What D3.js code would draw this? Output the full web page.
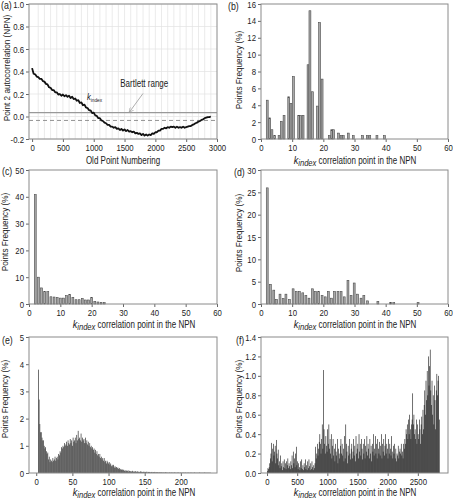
<!DOCTYPE html>
<html><head><meta charset="utf-8">
<script src="https://cdn.jsdelivr.net/npm/d3@7/dist/d3.min.js"></script>
<style>
body{margin:0;background:#fff}
svg{display:block}
text{font-family:"Liberation Sans",Arial,Helvetica,sans-serif;fill:#222}
</style></head><body>
<svg id="chart" width="453" height="500"></svg>
<script>
// ---------- DATA ----------
// (a) autocorrelation of point 2 vs old point numbering (step 25)
const oldPoints = d3.range(0, 2901, 25);
const autocorr = [0.43,0.38,0.375,0.355,0.35,0.335,0.335,0.315,0.31,0.29,0.285,0.26,0.255,0.235,0.235,0.215,0.215,0.195,0.2,0.185,
0.195,0.18,0.19,0.175,0.185,0.165,0.175,0.155,0.16,0.14,0.145,0.12,0.125,0.1,0.105,0.08,0.075,0.055,0.055,0.03,
0.035,0.01,0.005,-0.015,-0.015,-0.035,-0.04,-0.055,-0.06,-0.075,-0.075,-0.09,-0.09,-0.1,-0.095,-0.11,-0.105,-0.12,-0.11,-0.125,
-0.115,-0.13,-0.12,-0.135,-0.13,-0.14,-0.135,-0.15,-0.145,-0.155,-0.15,-0.165,-0.155,-0.17,-0.16,-0.17,-0.16,-0.165,-0.15,-0.155,
-0.14,-0.14,-0.125,-0.125,-0.11,-0.11,-0.1,-0.105,-0.095,-0.1,-0.09,-0.095,-0.09,-0.1,-0.09,-0.1,-0.095,-0.1,-0.09,-0.1,
-0.095,-0.09,-0.085,-0.085,-0.075,-0.07,-0.06,-0.055,-0.045,-0.04,-0.03,-0.025,-0.015,-0.01,-0.005,-0.005,0.0];
const bartlett = [0.035, -0.035];

// (b)
const bK = [2.0,2.8,3.5,4.4,5.8,6.5,7.4,8.9,9.6,10.4,12.1,12.7,13.5,15.1,15.7,16.5,18.1,18.8,19.6,21.9,22.7,23.3,24.9,25.7,26.4,28.0,29.6,32.6,34.1,34.9,37.2,39.6];
const bVal = [4.6,2.5,1.1,0.4,0.4,2.1,2.8,5.0,4.2,7.4,2.8,2.8,2.8,8.8,15.2,5.6,3.9,13.8,7.1,0.4,1.1,1.1,0.7,0.4,0.4,0.7,0.4,0.4,0.4,0.4,0.4,0.4];

// (c)
const cK = [2,3,4,5,6,7,8,9,10,11,12,13,14,15,16,17,18,19,20,21,22,23,24];
const cVal = [40.8,10,6,4.6,4.6,2.7,2.6,2.4,2.2,2.2,3.1,3.6,2.5,1.6,1.6,2.1,1.5,1.5,2.4,1.0,0.75,0.6,0.5];

// (d)
const dK = [2.0,3.0,4.1,5.0,6.1,7.1,8.0,9.1,10.3,11.3,12.3,13.4,14.4,15.4,16.5,17.5,18.5,19.6,20.6,21.6,22.6,23.6,24.7,25.7,26.7,27.9,28.9,29.9,31.0,32.1,33.0,34.2,37.5,41.6,42.6,50.4];
const dVal = [26.0,4.4,3.1,1.0,2.2,1.2,2.2,1.0,3.4,2.8,2.8,2.5,1.9,1.3,3.4,2.8,2.8,1.9,1.6,2.8,1.3,2.8,2.8,2.8,1.6,5.3,1.9,4.7,2.2,1.3,1.9,0.7,0.6,0.3,0.3,0.3];

// (e) one value per k, starting at k = 3
const eStart = 3;
const eVal = [3.8,2.7,1.8,1.5,1.5,1.3,1.2,1.2,1.0,0.9,0.95,0.8,0.7,0.75,0.5,0.6,0.4,0.5,0.45,0.4,
0.55,0.45,0.5,0.6,0.45,0.55,0.6,0.5,0.7,0.65,0.8,0.75,0.95,0.9,1.0,0.95,1.1,1.0,1.05,1.15,
1.0,1.2,1.1,1.05,1.25,1.1,1.2,1.0,1.3,1.15,1.2,1.3,1.1,1.4,1.2,1.55,1.25,1.3,1.2,1.45,
1.15,1.3,1.2,1.25,1.1,1.3,1.1,1.2,1.05,1.15,1.0,1.1,0.95,1.0,0.9,0.95,0.85,0.9,0.75,0.85,
0.7,0.8,0.65,0.7,0.6,0.7,0.55,0.6,0.5,0.55,0.45,0.55,0.4,0.45,0.35,0.45,0.4,0.35,0.4,0.3,
0.35,0.25,0.3,0.25,0.3,0.2,0.25,0.2,0.22,0.18,0.2,0.15,0.18,0.12,0.15,0.12,0.13,0.1,0.12,
0.08,0.1,0.06,0.09,0.07,0.1,0.05,0.08,0.06,0.07,0.05,0.08,0.04,0.06,0.05,0.07,0.04,0.05,0.06,0.04,
0.05,0.03,0.06,0.04,0.05,0.03,0.04,0.05,0.03,0.04,0.03,0.05,0.02,0.04,0.03,0.04,0.02,0.03,0.04,0.02,
0.03,0.02,0.04,0.02,0.03,0.02,0.03,0.02,0.02,0.03,0.02,0.02,0.03,0.01,0.02,0.02,0.01,0.03,0.02,0.01,
0.02,0.01,0.02,0.02,0.01,0.02,0.01,0.02,0.01,0.02,0.02,0.01,0.01,0.02,0.01,0.02,0.01,0.01,0.02,0.01,
0.01,0.02,0.01,0.01,0.02,0.01,0.01,0.01,0.02,0.01,0.01,0.01,0.02,0.01,0.01,0.01,0.01,0.02,0.01,0.01,
0.01,0.01,0.01,0.01,0.02,0.01,0.01,0.01,0.01,0.01,0.01,0.02,0.01,0.01,0.01,0.01,0.01,0.01,0.01,0.01];

// (f) bins of 10 starting at k = 0
const fBin = 10;
const fVal = [0.02,0.05,0.04,0.06,0.1,0.15,0.2,0.31,0.12,0.25,0.3,0.18,0.22,0.28,0.1,0.34,0.2,0.15,0.24,0.08,
0.12,0.05,0.18,0.07,0.1,0.03,0.12,0.06,0.14,0.05,0.1,0.04,0.12,0.08,0.15,0.05,0.1,0.07,0.04,0.12,
0.08,0.18,0.05,0.22,0.1,0.15,0.06,0.2,0.27,0.08,0.12,0.04,0.1,0.06,0.03,0.12,0.05,0.14,0.04,0.08,
0.03,0.1,0.06,0.14,0.04,0.08,0.03,0.12,0.05,0.14,0.07,0.03,0.1,0.04,0.12,0.06,0.03,0.08,0.05,0.1,
0.27,0.15,0.2,0.3,0.18,0.25,0.32,0.4,0.3,0.2,0.35,0.5,0.25,1.06,0.45,0.3,0.2,0.38,0.28,0.22,
0.45,0.3,0.5,0.25,0.35,0.2,0.4,0.15,0.28,0.35,0.18,0.25,0.12,0.3,0.22,0.18,0.35,0.1,0.25,0.2,
0.15,0.28,0.35,0.2,0.3,0.18,0.25,0.12,0.38,0.15,0.5,0.3,0.22,0.1,0.28,0.18,0.35,0.2,0.14,0.25,
0.3,0.15,0.22,0.35,0.18,0.28,0.12,0.38,0.2,0.25,0.3,0.15,0.4,0.22,0.3,0.18,0.35,0.25,0.14,0.3,
0.2,0.35,0.15,0.28,0.22,0.38,0.18,0.3,0.25,0.15,0.35,0.2,0.28,0.12,0.3,0.22,0.4,0.18,0.25,0.38,
0.2,0.3,0.15,0.35,0.25,0.2,0.32,0.18,0.28,0.4,0.15,0.3,0.22,0.35,0.18,0.28,0.4,0.2,0.3,0.25,
0.15,0.35,0.2,0.3,0.25,0.18,0.38,0.22,0.15,0.28,0.2,0.3,0.15,0.25,0.12,0.2,0.18,0.28,0.15,0.22,
0.25,0.2,0.3,0.18,0.22,0.15,0.3,0.25,0.35,0.3,0.45,0.4,0.5,0.35,0.55,0.4,0.6,0.45,0.35,0.5,
0.55,0.82,0.5,0.6,0.4,0.45,0.35,0.55,0.3,0.5,0.4,0.35,0.55,0.45,0.3,0.5,0.58,0.4,0.65,0.45,
0.7,0.85,0.6,0.95,0.75,1.05,0.8,1.2,0.9,1.1,1.27,0.85,0.7,0.95,0.6,0.8,0.5,0.9,0.75,0.45,
0.85,1.02,0.8,0.95,1.0,0.55];

// tick labels
const aXTicks = [0,500,1000,1500,2000,2500,3000];
const aYTicks = [-0.2,0,0.2,0.4,0.6,0.8,1.0];
const k60Ticks = [0,10,20,30,40,50,60];
const bYTicks = [0,2,4,6,8,10,12,14,16];
const cYTicks = [0,10,20,30,40,50];
const dYTicks = [0,5,10,15,20,25,30];
const eXTicks = [0,50,100,150,200];
const eYTicks = [0,1,2,3,4,5];
const fXTicks = [0,500,1000,1500,2000,2500];
const fYTicks = [0,0.2,0.4,0.6,0.8,1.0,1.2,1.4];

// ---------- DRAW ----------
const svg = d3.select("#chart");
const L = {x0:29, x1:217}, R = {x0:261, x1:448};
const ROW = [{y0:4,y1:139},{y0:170,y1:304},{y0:337,y1:473}];
const SQ = 0.8;   // horizontal condensing of the sans face (reference uses a narrow face)

// condense a text horizontally about its anchor x
function condense(sel, f){
  sel.each(function(){
    const x0 = +(this.getAttribute("x")||0);
    const prev = this.getAttribute("transform")||"";
    this.setAttribute("transform", `${prev} translate(${x0*(1-f)},0) scale(${f},1)`);
  });
}

function panel(o){
  const g = svg.append("g");
  const x = d3.scaleLinear().domain(o.xd).range([o.box.x0,o.box.x1]);
  const y = d3.scaleLinear().domain(o.yd).range([o.box.y1,o.box.y0]);
  if (o.grid) o.grid(g,x,y);
  const xa = g.append("g").attr("transform",`translate(0,${o.box.y1})`)
    .call(d3.axisBottom(x).tickValues(o.xt).tickSizeInner(3).tickSizeOuter(0).tickPadding(2).tickFormat(o.xf||(v=>v)));
  const ya = g.append("g").attr("transform",`translate(${o.box.x0},0)`)
    .call(d3.axisLeft(y).tickValues(o.yt).tickSizeInner(3).tickSizeOuter(0).tickPadding(2).tickFormat(o.yf||(v=>v)));
  [xa,ya].forEach(a=>{a.select(".domain").remove();a.selectAll("line").attr("stroke","#666");
    a.selectAll("text").style("font-size","9.5px").attr("fill","#222").call(condense, 0.82);});
  o.draw(g,x,y);
  g.append("rect").attr("x",o.box.x0).attr("y",o.box.y0).attr("width",o.box.x1-o.box.x0).attr("height",o.box.y1-o.box.y0)
    .attr("fill","none").attr("stroke","#8a8a8a").attr("stroke-width",1);
  g.append("text").attr("x",o.lx).attr("y",o.ly).style("font-size","11px").text(o.letter).call(condense, SQ);
  // y title
  g.append("text").attr("transform",`translate(${o.ytx},${o.yty}) rotate(-90)`).attr("text-anchor","middle")
    .style("font-size","9.5px").text(o.ytitle).call(condense, 0.86);
  // x title
  const t = g.append("text").attr("x",o.xtx).attr("y",o.xty).attr("text-anchor","middle").style("font-size","10px");
  if (o.xtitle) t.text(o.xtitle);
  else {
    t.append("tspan").style("font-style","italic").style("font-size","11.5px").text("k");
    t.append("tspan").style("font-style","italic").style("font-size","9.5px").attr("dy",2.5).text("index");
    t.append("tspan").attr("dy",-2.5).text(" correlation point in the NPN");
  }
  t.call(condense, SQ);
  return {x,y,g};
}

function bars(data, w, fill, stroke){
  return (g,x,y)=>{
    g.append("g").selectAll("rect").data(data).join("rect")
      .attr("x",d=>x(d[0])-w/2).attr("width",w)
      .attr("y",d=>y(d[1])).attr("height",d=>y(0)-y(d[1]))
      .attr("fill",fill).attr("stroke",stroke||"none").attr("stroke-width",0.6);
  };
}
const zip = (a,b)=>a.map((v,i)=>[v,b[i]]);

// (a)
panel({box:{...L,...ROW[0]}, xd:[-50,3000], yd:[-0.2,1.0], xt:aXTicks, yt:aYTicks, yf:v=>v.toFixed(1),
  letter:"(a)", lx:1, ly:9, ytitle:"Point 2 autocorrelation (NPN)", ytx:10, yty:68,
  xtitle:"Old Point Numbering", xtx:123, xty:164,
  grid:(g,x,y)=>{
    g.append("g").selectAll("line").data(d3.range(100,3000,100)).join("line")
      .attr("x1",d=>x(d)).attr("x2",d=>x(d)).attr("y1",y(1.0)).attr("y2",y(-0.2)).attr("stroke","#e2e2e2").attr("stroke-width",0.7);
    g.append("g").selectAll("line").data(aYTicks).join("line")
      .attr("x1",x(-50)).attr("x2",x(3000)).attr("y1",d=>y(d)).attr("y2",d=>y(d)).attr("stroke","#e2e2e2").attr("stroke-width",0.7);
  },
  draw:(g,x,y)=>{
    g.append("line").attr("x1",x(-50)).attr("x2",x(3000)).attr("y1",y(bartlett[0])).attr("y2",y(bartlett[0]))
      .attr("stroke","#999").attr("stroke-width",1.2);
    g.append("line").attr("x1",x(-50)).attr("x2",x(3000)).attr("y1",y(bartlett[1])).attr("y2",y(bartlett[1]))
      .attr("stroke","#888").attr("stroke-width",0.9).attr("stroke-dasharray","4,3");
    g.append("path").datum(zip(oldPoints,autocorr))
      .attr("d",d3.line().x(d=>x(d[0])).y(d=>y(d[1])))
      .attr("fill","none").attr("stroke","#111").attr("stroke-width",1.8).attr("stroke-linejoin","round");
    svg.append("defs").append("marker").attr("id","ah").attr("viewBox","0 0 10 10").attr("refX",9).attr("refY",5)
      .attr("markerWidth",6).attr("markerHeight",6).attr("orient","auto")
      .append("path").attr("d","M0,0L10,5L0,10").attr("fill","none").attr("stroke","#999").attr("stroke-width",1.2);
    g.append("line").attr("x1",x(1800)).attr("y1",y(0.205)).attr("x2",x(1580)).attr("y2",y(0.04))
      .attr("stroke","#999").attr("stroke-width",0.8).attr("marker-end","url(#ah)");
    g.append("text").attr("x",x(1820)).attr("y",y(0.26)).attr("text-anchor","middle").style("font-size","10px")
      .text("Bartlett range").call(condense, SQ);
    const kt = g.append("text").attr("x",x(890)).attr("y",y(0.15));
    kt.append("tspan").style("font-style","italic").style("font-size","9.5px").text("k");
    kt.append("tspan").style("font-size","6px").attr("dy",2).text("index");
    kt.call(condense, SQ);
  }
});

// (b)
panel({box:{...R,...ROW[0]}, xd:[0,60], yd:[0,16], xt:k60Ticks, yt:bYTicks,
  letter:"(b)", lx:228, ly:10, ytitle:"Points Frequency (%)", ytx:242, yty:70, xtx:355, xty:164,
  draw:bars(zip(bK,bVal),1.9,"#a9a9a9","#4a4a4a")});

// (c)
panel({box:{...L,...ROW[1]}, xd:[0,60], yd:[0,50], xt:k60Ticks, yt:cYTicks,
  letter:"(c)", lx:2, ly:175, ytitle:"Points Frequency (%)", ytx:8, yty:232, xtx:134, xty:328,
  draw:bars(zip(cK,cVal),1.9,"#a9a9a9","#4a4a4a")});

// (d)
panel({box:{...R,...ROW[1]}, xd:[0,60], yd:[0,30], xt:k60Ticks, yt:dYTicks,
  letter:"(d)", lx:234, ly:176, ytitle:"Points Frequency (%)", ytx:242, yty:233, xtx:355, xty:328,
  draw:bars(zip(dK,dVal),1.9,"#a9a9a9","#4a4a4a")});

// (e)
panel({box:{...L,...ROW[2]}, xd:[-10,250], yd:[0,5], xt:eXTicks, yt:eYTicks,
  letter:"(e)", lx:2, ly:344, ytitle:"Points Frequency (%)", ytx:8, yty:399, xtx:134, xty:496,
  draw:bars(eVal.map((v,i)=>[eStart+i,v]),0.72,"#3a3a3a")});

// (f)
panel({box:{...R,...ROW[2]}, xd:[-100,3000], yd:[0,1.4], xt:fXTicks, yt:fYTicks, yf:v=>v.toFixed(1),
  letter:"(f)", lx:236, ly:344, ytitle:"Points Frequency (%)", ytx:242, yty:399, xtx:355, xty:496,
  draw:bars(fVal.map((v,i)=>[i*fBin+fBin/2,v]),0.6,"#111")});
</script>
</body></html>
